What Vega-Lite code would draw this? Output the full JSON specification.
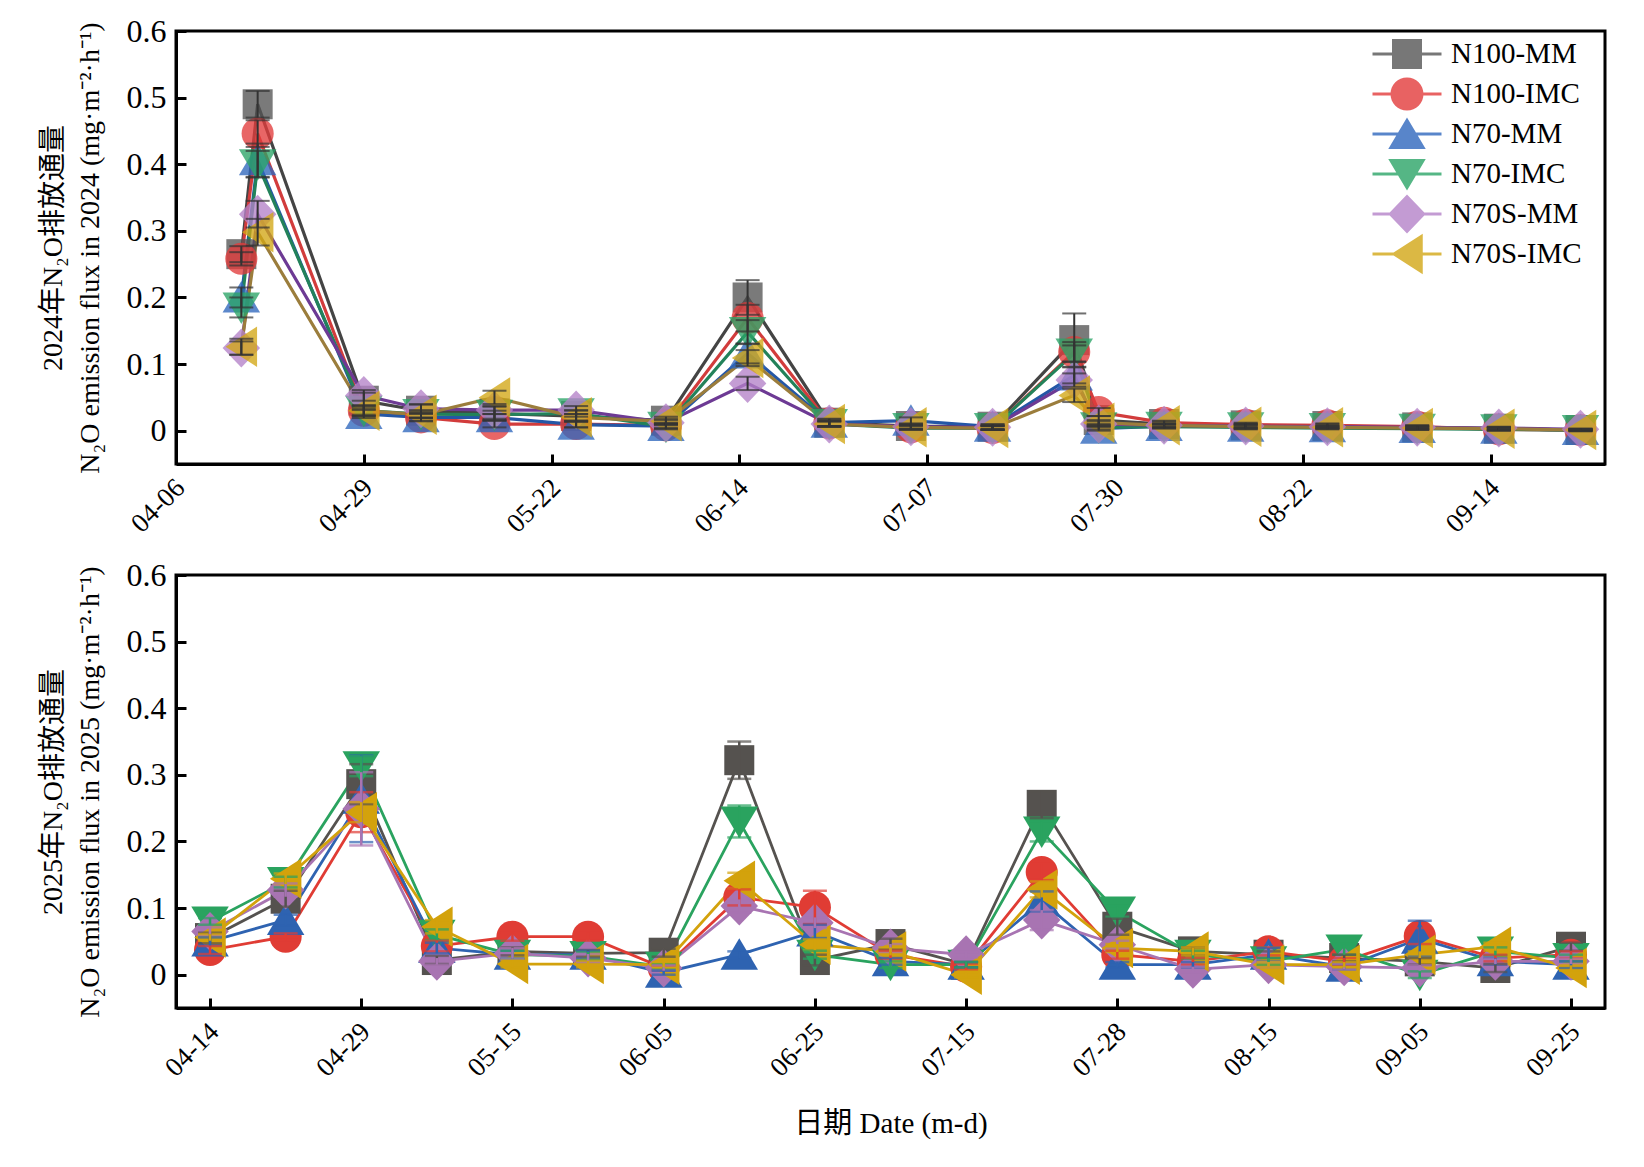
{
  "$schema": "https://vega.github.io/schema/vega-lite/v6.json",
  "background": "white",
  "padding": {"left": 37, "top": 13, "right": 30, "bottom": 10},
  "spacing": 111,
  "bounds": "flush",
  "config": {
    "view": {"stroke": "black", "strokeWidth": 3},
    "axis": {
      "grid": false,
      "domainColor": "black",
      "domainWidth": 3,
      "tickColor": "black",
      "tickWidth": 3,
      "tickSize": -10,
      "labelFont": "Liberation Serif",
      "labelFontSize": 32,
      "labelColor": "black",
      "titleFont": "Liberation Serif, Noto Sans CJK SC",
      "titleFontSize": 28,
      "titleFontWeight": "normal",
      "titleColor": "black",
      "titleLineHeight": 37
    },
    "axisX": {"labelFontSize": 27, "labelPadding": 20, "labelOffset": -5},
    "axisY": {"labelPadding": 20, "titlePadding": 22},
    "legend": {
      "labelFont": "Liberation Serif",
      "labelFontSize": 29,
      "labelColor": "black",
      "labelLimit": 300
    }
  },
  "datasets": {
    "y2024": [
      {"d": "2024-04-14T00:00", "s": "N100-MM", "v": 0.265, "e": 0.012},
      {"d": "2024-04-16T00:00", "s": "N100-MM", "v": 0.49, "e": 0.02},
      {"d": "2024-04-29T00:00", "s": "N100-MM", "v": 0.045, "e": 0.012},
      {"d": "2024-05-06T00:00", "s": "N100-MM", "v": 0.03, "e": 0.01},
      {"d": "2024-05-15T00:00", "s": "N100-MM", "v": 0.026, "e": 0.01},
      {"d": "2024-05-25T00:00", "s": "N100-MM", "v": 0.022, "e": 0.008},
      {"d": "2024-06-05T00:00", "s": "N100-MM", "v": 0.015, "e": 0.006},
      {"d": "2024-06-15T00:00", "s": "N100-MM", "v": 0.2, "e": 0.026},
      {"d": "2024-06-25T00:00", "s": "N100-MM", "v": 0.012, "e": 0.006},
      {"d": "2024-07-05T00:00", "s": "N100-MM", "v": 0.007, "e": 0.004},
      {"d": "2024-07-15T00:00", "s": "N100-MM", "v": 0.006, "e": 0.004},
      {"d": "2024-07-25T00:00", "s": "N100-MM", "v": 0.136, "e": 0.04},
      {"d": "2024-07-28T00:00", "s": "N100-MM", "v": 0.016, "e": 0.006},
      {"d": "2024-08-05T00:00", "s": "N100-MM", "v": 0.01, "e": 0.004},
      {"d": "2024-08-15T00:00", "s": "N100-MM", "v": 0.008, "e": 0.003},
      {"d": "2024-08-25T00:00", "s": "N100-MM", "v": 0.007, "e": 0.003},
      {"d": "2024-09-05T00:00", "s": "N100-MM", "v": 0.005, "e": 0.003},
      {"d": "2024-09-15T00:00", "s": "N100-MM", "v": 0.003, "e": 0.002},
      {"d": "2024-09-25T00:00", "s": "N100-MM", "v": 0.001, "e": 0.002},
      {"d": "2024-04-14T00:00", "s": "N100-IMC", "v": 0.258, "e": 0.01},
      {"d": "2024-04-16T00:00", "s": "N100-IMC", "v": 0.446, "e": 0.02},
      {"d": "2024-04-29T00:00", "s": "N100-IMC", "v": 0.03, "e": 0.008},
      {"d": "2024-05-06T00:00", "s": "N100-IMC", "v": 0.02, "e": 0.006},
      {"d": "2024-05-15T00:00", "s": "N100-IMC", "v": 0.01, "e": 0.005},
      {"d": "2024-05-25T00:00", "s": "N100-IMC", "v": 0.01, "e": 0.005},
      {"d": "2024-06-05T00:00", "s": "N100-IMC", "v": 0.008, "e": 0.004},
      {"d": "2024-06-15T00:00", "s": "N100-IMC", "v": 0.169, "e": 0.02},
      {"d": "2024-06-25T00:00", "s": "N100-IMC", "v": 0.011, "e": 0.004},
      {"d": "2024-07-05T00:00", "s": "N100-IMC", "v": 0.005, "e": 0.003},
      {"d": "2024-07-15T00:00", "s": "N100-IMC", "v": 0.004, "e": 0.003},
      {"d": "2024-07-25T00:00", "s": "N100-IMC", "v": 0.118, "e": 0.015},
      {"d": "2024-07-28T00:00", "s": "N100-IMC", "v": 0.028, "e": 0.006},
      {"d": "2024-08-05T00:00", "s": "N100-IMC", "v": 0.012, "e": 0.003},
      {"d": "2024-08-15T00:00", "s": "N100-IMC", "v": 0.009, "e": 0.003},
      {"d": "2024-08-25T00:00", "s": "N100-IMC", "v": 0.008, "e": 0.003},
      {"d": "2024-09-05T00:00", "s": "N100-IMC", "v": 0.006, "e": 0.002},
      {"d": "2024-09-15T00:00", "s": "N100-IMC", "v": 0.002, "e": 0.002},
      {"d": "2024-09-25T00:00", "s": "N100-IMC", "v": 0.001, "e": 0.001},
      {"d": "2024-04-14T00:00", "s": "N70-MM", "v": 0.2, "e": 0.015},
      {"d": "2024-04-16T00:00", "s": "N70-MM", "v": 0.406, "e": 0.025},
      {"d": "2024-04-29T00:00", "s": "N70-MM", "v": 0.025, "e": 0.006},
      {"d": "2024-05-06T00:00", "s": "N70-MM", "v": 0.02, "e": 0.005},
      {"d": "2024-05-15T00:00", "s": "N70-MM", "v": 0.02, "e": 0.005},
      {"d": "2024-05-25T00:00", "s": "N70-MM", "v": 0.009, "e": 0.004},
      {"d": "2024-06-05T00:00", "s": "N70-MM", "v": 0.007, "e": 0.004},
      {"d": "2024-06-15T00:00", "s": "N70-MM", "v": 0.116, "e": 0.015},
      {"d": "2024-06-25T00:00", "s": "N70-MM", "v": 0.012, "e": 0.005},
      {"d": "2024-07-05T00:00", "s": "N70-MM", "v": 0.015, "e": 0.005},
      {"d": "2024-07-15T00:00", "s": "N70-MM", "v": 0.006, "e": 0.003},
      {"d": "2024-07-25T00:00", "s": "N70-MM", "v": 0.083, "e": 0.012},
      {"d": "2024-07-28T00:00", "s": "N70-MM", "v": 0.003, "e": 0.003},
      {"d": "2024-08-05T00:00", "s": "N70-MM", "v": 0.007, "e": 0.003},
      {"d": "2024-08-15T00:00", "s": "N70-MM", "v": 0.006, "e": 0.003},
      {"d": "2024-08-25T00:00", "s": "N70-MM", "v": 0.005, "e": 0.002},
      {"d": "2024-09-05T00:00", "s": "N70-MM", "v": 0.004, "e": 0.002},
      {"d": "2024-09-15T00:00", "s": "N70-MM", "v": 0.003, "e": 0.002},
      {"d": "2024-09-25T00:00", "s": "N70-MM", "v": 0.001, "e": 0.001},
      {"d": "2024-04-14T00:00", "s": "N70-IMC", "v": 0.185, "e": 0.015},
      {"d": "2024-04-16T00:00", "s": "N70-IMC", "v": 0.4, "e": 0.02},
      {"d": "2024-04-29T00:00", "s": "N70-IMC", "v": 0.03, "e": 0.006},
      {"d": "2024-05-06T00:00", "s": "N70-IMC", "v": 0.025, "e": 0.006},
      {"d": "2024-05-15T00:00", "s": "N70-IMC", "v": 0.024, "e": 0.006},
      {"d": "2024-05-25T00:00", "s": "N70-IMC", "v": 0.026, "e": 0.005},
      {"d": "2024-06-05T00:00", "s": "N70-IMC", "v": 0.006, "e": 0.004},
      {"d": "2024-06-15T00:00", "s": "N70-IMC", "v": 0.148, "e": 0.018},
      {"d": "2024-06-25T00:00", "s": "N70-IMC", "v": 0.01, "e": 0.004},
      {"d": "2024-07-05T00:00", "s": "N70-IMC", "v": 0.004, "e": 0.003},
      {"d": "2024-07-15T00:00", "s": "N70-IMC", "v": 0.004, "e": 0.003},
      {"d": "2024-07-25T00:00", "s": "N70-IMC", "v": 0.116, "e": 0.012},
      {"d": "2024-07-28T00:00", "s": "N70-IMC", "v": 0.005, "e": 0.003},
      {"d": "2024-08-05T00:00", "s": "N70-IMC", "v": 0.006, "e": 0.003},
      {"d": "2024-08-15T00:00", "s": "N70-IMC", "v": 0.005, "e": 0.003},
      {"d": "2024-08-25T00:00", "s": "N70-IMC", "v": 0.004, "e": 0.002},
      {"d": "2024-09-05T00:00", "s": "N70-IMC", "v": 0.003, "e": 0.002},
      {"d": "2024-09-15T00:00", "s": "N70-IMC", "v": 0.002, "e": 0.002},
      {"d": "2024-09-25T00:00", "s": "N70-IMC", "v": 0.001, "e": 0.001},
      {"d": "2024-04-14T00:00", "s": "N70S-MM", "v": 0.124, "e": 0.01},
      {"d": "2024-04-16T00:00", "s": "N70S-MM", "v": 0.325, "e": 0.02},
      {"d": "2024-04-29T00:00", "s": "N70S-MM", "v": 0.053, "e": 0.008},
      {"d": "2024-05-06T00:00", "s": "N70S-MM", "v": 0.033, "e": 0.006},
      {"d": "2024-05-15T00:00", "s": "N70S-MM", "v": 0.031, "e": 0.006},
      {"d": "2024-05-25T00:00", "s": "N70S-MM", "v": 0.031, "e": 0.006},
      {"d": "2024-06-05T00:00", "s": "N70S-MM", "v": 0.012, "e": 0.004},
      {"d": "2024-06-15T00:00", "s": "N70S-MM", "v": 0.071, "e": 0.01},
      {"d": "2024-06-25T00:00", "s": "N70S-MM", "v": 0.01, "e": 0.004},
      {"d": "2024-07-05T00:00", "s": "N70S-MM", "v": 0.006, "e": 0.003},
      {"d": "2024-07-15T00:00", "s": "N70S-MM", "v": 0.005, "e": 0.003},
      {"d": "2024-07-25T00:00", "s": "N70S-MM", "v": 0.076, "e": 0.01},
      {"d": "2024-07-28T00:00", "s": "N70S-MM", "v": 0.01, "e": 0.004},
      {"d": "2024-08-05T00:00", "s": "N70S-MM", "v": 0.008, "e": 0.003},
      {"d": "2024-08-15T00:00", "s": "N70S-MM", "v": 0.007, "e": 0.003},
      {"d": "2024-08-25T00:00", "s": "N70S-MM", "v": 0.006, "e": 0.002},
      {"d": "2024-09-05T00:00", "s": "N70S-MM", "v": 0.005, "e": 0.002},
      {"d": "2024-09-15T00:00", "s": "N70S-MM", "v": 0.004, "e": 0.002},
      {"d": "2024-09-25T00:00", "s": "N70S-MM", "v": 0.002, "e": 0.001},
      {"d": "2024-04-14T00:00", "s": "N70S-IMC", "v": 0.126, "e": 0.012},
      {"d": "2024-04-16T00:00", "s": "N70S-IMC", "v": 0.298, "e": 0.02},
      {"d": "2024-04-29T00:00", "s": "N70S-IMC", "v": 0.03, "e": 0.008},
      {"d": "2024-05-06T00:00", "s": "N70S-IMC", "v": 0.024, "e": 0.005},
      {"d": "2024-05-15T00:00", "s": "N70S-IMC", "v": 0.05, "e": 0.01},
      {"d": "2024-05-25T00:00", "s": "N70S-IMC", "v": 0.02, "e": 0.005},
      {"d": "2024-06-05T00:00", "s": "N70S-IMC", "v": 0.014, "e": 0.004},
      {"d": "2024-06-15T00:00", "s": "N70S-IMC", "v": 0.109, "e": 0.012},
      {"d": "2024-06-25T00:00", "s": "N70S-IMC", "v": 0.01, "e": 0.004},
      {"d": "2024-07-05T00:00", "s": "N70S-IMC", "v": 0.005, "e": 0.003},
      {"d": "2024-07-15T00:00", "s": "N70S-IMC", "v": 0.004, "e": 0.003},
      {"d": "2024-07-25T00:00", "s": "N70S-IMC", "v": 0.053, "e": 0.01},
      {"d": "2024-07-28T00:00", "s": "N70S-IMC", "v": 0.012, "e": 0.004},
      {"d": "2024-08-05T00:00", "s": "N70S-IMC", "v": 0.008, "e": 0.003},
      {"d": "2024-08-15T00:00", "s": "N70S-IMC", "v": 0.006, "e": 0.003},
      {"d": "2024-08-25T00:00", "s": "N70S-IMC", "v": 0.005, "e": 0.002},
      {"d": "2024-09-05T00:00", "s": "N70S-IMC", "v": 0.004, "e": 0.002},
      {"d": "2024-09-15T00:00", "s": "N70S-IMC", "v": 0.003, "e": 0.002},
      {"d": "2024-09-25T00:00", "s": "N70S-IMC", "v": 0.001, "e": 0.001}
    ],
    "y2025": [
      {"d": "04-14", "s": "N100-MM", "v": 0.055, "e": 0.008},
      {"d": "04-21", "s": "N100-MM", "v": 0.114, "e": 0.012},
      {"d": "04-29", "s": "N100-MM", "v": 0.286, "e": 0.03},
      {"d": "05-07", "s": "N100-MM", "v": 0.022, "e": 0.006},
      {"d": "05-15", "s": "N100-MM", "v": 0.035, "e": 0.006},
      {"d": "05-25", "s": "N100-MM", "v": 0.032, "e": 0.005},
      {"d": "06-05", "s": "N100-MM", "v": 0.033, "e": 0.006},
      {"d": "06-15", "s": "N100-MM", "v": 0.322, "e": 0.028},
      {"d": "06-25", "s": "N100-MM", "v": 0.022, "e": 0.008},
      {"d": "07-05", "s": "N100-MM", "v": 0.046, "e": 0.008},
      {"d": "07-15", "s": "N100-MM", "v": 0.015, "e": 0.004},
      {"d": "07-21", "s": "N100-MM", "v": 0.255, "e": 0.02},
      {"d": "07-28", "s": "N100-MM", "v": 0.072, "e": 0.012},
      {"d": "08-05", "s": "N100-MM", "v": 0.035, "e": 0.006},
      {"d": "08-15", "s": "N100-MM", "v": 0.03, "e": 0.005},
      {"d": "08-25", "s": "N100-MM", "v": 0.025, "e": 0.005},
      {"d": "09-05", "s": "N100-MM", "v": 0.02, "e": 0.005},
      {"d": "09-15", "s": "N100-MM", "v": 0.01, "e": 0.006},
      {"d": "09-25", "s": "N100-MM", "v": 0.042, "e": 0.006},
      {"d": "04-14", "s": "N100-IMC", "v": 0.037, "e": 0.006},
      {"d": "04-21", "s": "N100-IMC", "v": 0.057, "e": 0.005},
      {"d": "04-29", "s": "N100-IMC", "v": 0.244, "e": 0.03},
      {"d": "05-07", "s": "N100-IMC", "v": 0.043, "e": 0.008},
      {"d": "05-15", "s": "N100-IMC", "v": 0.057, "e": 0.006},
      {"d": "05-25", "s": "N100-IMC", "v": 0.057, "e": 0.006},
      {"d": "06-05", "s": "N100-IMC", "v": 0.01, "e": 0.004},
      {"d": "06-15", "s": "N100-IMC", "v": 0.116, "e": 0.012},
      {"d": "06-25", "s": "N100-IMC", "v": 0.101, "e": 0.025},
      {"d": "07-05", "s": "N100-IMC", "v": 0.03, "e": 0.006},
      {"d": "07-15", "s": "N100-IMC", "v": 0.012, "e": 0.004},
      {"d": "07-21", "s": "N100-IMC", "v": 0.154, "e": 0.012},
      {"d": "07-28", "s": "N100-IMC", "v": 0.03, "e": 0.006},
      {"d": "08-05", "s": "N100-IMC", "v": 0.02, "e": 0.005},
      {"d": "08-15", "s": "N100-IMC", "v": 0.035, "e": 0.006},
      {"d": "08-25", "s": "N100-IMC", "v": 0.02, "e": 0.005},
      {"d": "09-05", "s": "N100-IMC", "v": 0.058, "e": 0.012},
      {"d": "09-15", "s": "N100-IMC", "v": 0.025, "e": 0.005},
      {"d": "09-25", "s": "N100-IMC", "v": 0.03, "e": 0.005},
      {"d": "04-14", "s": "N70-MM", "v": 0.05, "e": 0.006},
      {"d": "04-21", "s": "N70-MM", "v": 0.082, "e": 0.008},
      {"d": "04-29", "s": "N70-MM", "v": 0.264, "e": 0.065},
      {"d": "05-07", "s": "N70-MM", "v": 0.04, "e": 0.008},
      {"d": "05-15", "s": "N70-MM", "v": 0.03, "e": 0.006},
      {"d": "05-25", "s": "N70-MM", "v": 0.03, "e": 0.006},
      {"d": "06-05", "s": "N70-MM", "v": 0.003, "e": 0.003},
      {"d": "06-15", "s": "N70-MM", "v": 0.03, "e": 0.005},
      {"d": "06-25", "s": "N70-MM", "v": 0.065, "e": 0.01},
      {"d": "07-05", "s": "N70-MM", "v": 0.02, "e": 0.005},
      {"d": "07-15", "s": "N70-MM", "v": 0.015, "e": 0.004},
      {"d": "07-21", "s": "N70-MM", "v": 0.11, "e": 0.015},
      {"d": "07-28", "s": "N70-MM", "v": 0.015, "e": 0.004},
      {"d": "08-05", "s": "N70-MM", "v": 0.015, "e": 0.004},
      {"d": "08-15", "s": "N70-MM", "v": 0.03, "e": 0.01},
      {"d": "08-25", "s": "N70-MM", "v": 0.012, "e": 0.004},
      {"d": "09-05", "s": "N70-MM", "v": 0.054, "e": 0.027},
      {"d": "09-15", "s": "N70-MM", "v": 0.02, "e": 0.005},
      {"d": "09-25", "s": "N70-MM", "v": 0.015, "e": 0.005},
      {"d": "04-14", "s": "N70-IMC", "v": 0.08, "e": 0.005},
      {"d": "04-21", "s": "N70-IMC", "v": 0.139, "e": 0.008},
      {"d": "04-29", "s": "N70-IMC", "v": 0.313, "e": 0.015},
      {"d": "05-07", "s": "N70-IMC", "v": 0.06, "e": 0.008},
      {"d": "05-15", "s": "N70-IMC", "v": 0.03, "e": 0.006},
      {"d": "05-25", "s": "N70-IMC", "v": 0.028, "e": 0.006},
      {"d": "06-05", "s": "N70-IMC", "v": 0.012, "e": 0.004},
      {"d": "06-15", "s": "N70-IMC", "v": 0.23, "e": 0.024},
      {"d": "06-25", "s": "N70-IMC", "v": 0.03, "e": 0.006},
      {"d": "07-05", "s": "N70-IMC", "v": 0.015, "e": 0.005},
      {"d": "07-15", "s": "N70-IMC", "v": 0.015, "e": 0.004},
      {"d": "07-21", "s": "N70-IMC", "v": 0.215, "e": 0.015},
      {"d": "07-28", "s": "N70-IMC", "v": 0.095, "e": 0.008},
      {"d": "08-05", "s": "N70-IMC", "v": 0.03, "e": 0.006},
      {"d": "08-15", "s": "N70-IMC", "v": 0.02, "e": 0.005},
      {"d": "08-25", "s": "N70-IMC", "v": 0.038, "e": 0.008},
      {"d": "09-05", "s": "N70-IMC", "v": 0.0, "e": 0.005},
      {"d": "09-15", "s": "N70-IMC", "v": 0.035, "e": 0.006},
      {"d": "09-25", "s": "N70-IMC", "v": 0.025, "e": 0.005},
      {"d": "04-14", "s": "N70S-MM", "v": 0.065, "e": 0.006},
      {"d": "04-21", "s": "N70S-MM", "v": 0.127, "e": 0.01},
      {"d": "04-29", "s": "N70S-MM", "v": 0.249, "e": 0.055},
      {"d": "05-07", "s": "N70S-MM", "v": 0.02, "e": 0.005},
      {"d": "05-15", "s": "N70S-MM", "v": 0.032, "e": 0.008},
      {"d": "05-25", "s": "N70S-MM", "v": 0.025, "e": 0.006},
      {"d": "06-05", "s": "N70S-MM", "v": 0.01, "e": 0.004},
      {"d": "06-15", "s": "N70S-MM", "v": 0.103, "e": 0.01},
      {"d": "06-25", "s": "N70S-MM", "v": 0.078, "e": 0.008},
      {"d": "07-05", "s": "N70S-MM", "v": 0.04, "e": 0.006},
      {"d": "07-15", "s": "N70S-MM", "v": 0.03, "e": 0.004},
      {"d": "07-21", "s": "N70S-MM", "v": 0.082, "e": 0.015},
      {"d": "07-28", "s": "N70S-MM", "v": 0.045, "e": 0.006},
      {"d": "08-05", "s": "N70S-MM", "v": 0.008, "e": 0.004},
      {"d": "08-15", "s": "N70S-MM", "v": 0.015, "e": 0.004},
      {"d": "08-25", "s": "N70S-MM", "v": 0.012, "e": 0.004},
      {"d": "09-05", "s": "N70S-MM", "v": 0.01, "e": 0.004},
      {"d": "09-15", "s": "N70S-MM", "v": 0.02, "e": 0.004},
      {"d": "09-25", "s": "N70S-MM", "v": 0.02, "e": 0.004},
      {"d": "04-14", "s": "N70S-IMC", "v": 0.056, "e": 0.005},
      {"d": "04-21", "s": "N70S-IMC", "v": 0.144, "e": 0.008},
      {"d": "04-29", "s": "N70S-IMC", "v": 0.244, "e": 0.015},
      {"d": "05-07", "s": "N70S-IMC", "v": 0.072, "e": 0.01},
      {"d": "05-15", "s": "N70S-IMC", "v": 0.016, "e": 0.005},
      {"d": "05-25", "s": "N70S-IMC", "v": 0.016, "e": 0.005},
      {"d": "06-05", "s": "N70S-IMC", "v": 0.015, "e": 0.004},
      {"d": "06-15", "s": "N70S-IMC", "v": 0.141, "e": 0.012},
      {"d": "06-25", "s": "N70S-IMC", "v": 0.045, "e": 0.008},
      {"d": "07-05", "s": "N70S-IMC", "v": 0.035, "e": 0.006},
      {"d": "07-15", "s": "N70S-IMC", "v": 0.0, "e": 0.004},
      {"d": "07-21", "s": "N70S-IMC", "v": 0.128, "e": 0.012},
      {"d": "07-28", "s": "N70S-IMC", "v": 0.04, "e": 0.006},
      {"d": "08-05", "s": "N70S-IMC", "v": 0.035, "e": 0.006},
      {"d": "08-15", "s": "N70S-IMC", "v": 0.015, "e": 0.004},
      {"d": "08-25", "s": "N70S-IMC", "v": 0.015, "e": 0.004},
      {"d": "09-05", "s": "N70S-IMC", "v": 0.03, "e": 0.005},
      {"d": "09-15", "s": "N70S-IMC", "v": 0.042, "e": 0.006},
      {"d": "09-25", "s": "N70S-IMC", "v": 0.01, "e": 0.004}
    ]
  },
  "resolve": {"scale": {"color": "independent", "fill": "independent", "shape": "independent"}},
  "vconcat": [
    {
      "width": 1429,
      "height": 433,
      "data": {"name": "y2024"},
      "resolve": {"scale": {"fill": "independent", "shape": "independent"}},
      "encoding": {
        "x": {
          "field": "d",
          "type": "temporal",
          "scale": {"domain": [{"year": 2024, "month": 4, "date": 6}, {"year": 2024, "month": 9, "date": 28}]},
          "axis": {
            "title": null,
            "format": "%m-%d",
            "labelAngle": -45,
            "values": [
              {"year": 2024, "month": 4, "date": 6},
              {"year": 2024, "month": 4, "date": 29},
              {"year": 2024, "month": 5, "date": 22},
              {"year": 2024, "month": 6, "date": 14},
              {"year": 2024, "month": 7, "date": 7},
              {"year": 2024, "month": 7, "date": 30},
              {"year": 2024, "month": 8, "date": 22},
              {"year": 2024, "month": 9, "date": 14}
            ]
          }
        },
        "y": {
          "field": "v",
          "type": "quantitative",
          "title": ["2024年N₂O排放通量", "N₂O emission flux in 2024 (mg·m⁻²·h⁻¹)"],
          "scale": {"domain": [-0.05, 0.6], "nice": false, "zero": false},
          "axis": {"values": [0, 0.1, 0.2, 0.3, 0.4, 0.5, 0.6], "format": ".1~f"}
        }
      },
      "layer": [
        {
          "mark": {"type": "line", "strokeWidth": 3.2},
          "encoding": {
            "color": {
              "field": "s",
              "type": "nominal",
              "legend": null,
              "scale": {"range": ["#d23c3c", "#444444", "#23825a", "#2457a6", "#9b7d3c", "#6d3a94"]}
            }
          }
        },
        {
          "mark": {"type": "point", "filled": true, "size": 900, "opacity": 0.78, "strokeWidth": 0},
          "encoding": {
            "fill": {
              "field": "s",
              "type": "nominal",
              "legend": null,
              "scale": {"range": ["#e23b3b", "#555555", "#2aa466", "#2e67bd", "#d2a615", "#b482c8"]}
            },
            "shape": {
              "field": "s",
              "type": "nominal",
              "legend": null,
              "scale": {"range": ["M1.07,0A1.07,1.07 0 1,1 -1.07,0A1.07,1.07 0 1,1 1.07,0Z", "M-1,-1H1V1H-1Z", "M-1.25,-1H1.25L0,1.1Z", "M0,-1.1L1.25,1L-1.25,1Z", "M1.05,-1.35V1.35L-1.05,0Z", "M0,-1.3L1.25,0L0,1.3L-1.25,0Z"]}
            }
          }
        },
        {
          "mark": {"type": "point", "filled": true, "size": 900, "opacity": 0, "strokeWidth": 0},
          "encoding": {
            "fill": {
              "field": "s",
              "type": "nominal",
              "scale": {
                "domain": ["N100-MM", "N100-IMC", "N70-MM", "N70-IMC", "N70S-MM", "N70S-IMC"],
                "range": ["#555555", "#e23b3b", "#2e67bd", "#2aa466", "#b482c8", "#d2a615"]
              },
              "legend": {
                "title": null,
                "orient": "none",
                "legendX": 1216,
                "legendY": 8,
                "padding": 0,
                "gridAlign": "all",
                "symbolSize": 900,
                "symbolOpacity": 0.8,
                "symbolStrokeWidth": 0,
                "labelOffset": 29,
                "rowPadding": -2
              }
            },
            "shape": {
              "field": "s",
              "type": "nominal",
              "scale": {
                "domain": ["N100-MM", "N100-IMC", "N70-MM", "N70-IMC", "N70S-MM", "N70S-IMC"],
                "range": [
                  "M-2.3,-0.1H2.3V0.1H-2.3Z M-1,-1H1V1H-1Z",
                  "M-2.3,-0.1H2.3V0.1H-2.3Z M1.1,0A1.1,1.1 0 1,1 -1.1,0A1.1,1.1 0 1,1 1.1,0Z",
                  "M-2.3,-0.1H2.3V0.1H-2.3Z M0,-1.1L1.25,1L-1.25,1Z",
                  "M-2.3,-0.1H2.3V0.1H-2.3Z M-1.25,-1H1.25L0,1.1Z",
                  "M-2.3,-0.1H2.3V0.1H-2.3Z M0,-1.3L1.25,0L0,1.3L-1.25,0Z",
                  "M-2.3,-0.1H2.3V0.1H-2.3Z M1.05,-1.35V1.35L-1.05,0Z"
                ]
              },
              "legend": {
                "title": null,
                "orient": "none",
                "legendX": 1216,
                "legendY": 8,
                "padding": 0,
                "gridAlign": "all",
                "symbolSize": 900,
                "symbolOpacity": 0.8,
                "symbolStrokeWidth": 0,
                "labelOffset": 29,
                "rowPadding": -2
              }
            }
          }
        },
        {
          "mark": {"type": "errorbar", "ticks": true, "size": 24, "thickness": 2, "color": "#333333"},
          "encoding": {"yError": {"field": "e"}}
        }
      ]
    },
    {
      "width": 1429,
      "height": 433,
      "data": {"name": "y2025"},
      "encoding": {
        "x": {
          "field": "d",
          "type": "ordinal",
          "sort": null,
          "scale": {"type": "point", "padding": 0.45},
          "axis": {
            "title": "日期 Date (m-d)",
            "titleFontSize": 29,
            "titlePadding": 29,
            "labelAngle": -45,
            "values": ["04-14", "04-29", "05-15", "06-05", "06-25", "07-15", "07-28", "08-15", "09-05", "09-25"]
          }
        },
        "y": {
          "field": "v",
          "type": "quantitative",
          "title": ["2025年N₂O排放通量", "N₂O emission flux in 2025 (mg·m⁻²·h⁻¹)"],
          "scale": {"domain": [-0.05, 0.6], "nice": false, "zero": false},
          "axis": {"values": [0, 0.1, 0.2, 0.3, 0.4, 0.5, 0.6], "format": ".1~f"}
        },
        "color": {
          "field": "s",
          "type": "nominal",
          "legend": null,
          "scale": {
            "domain": ["N100-MM", "N100-IMC", "N70-MM", "N70-IMC", "N70S-MM", "N70S-IMC"],
            "range": ["#55524f", "#e03c34", "#2e63b1", "#2aa35f", "#a874b2", "#d3a20c"]
          }
        }
      },
      "layer": [
        {"mark": {"type": "line", "strokeWidth": 2.8}},
        {
          "mark": {"type": "point", "filled": true, "size": 900, "opacity": 1, "strokeWidth": 0},
          "encoding": {
            "shape": {
              "field": "s",
              "type": "nominal",
              "legend": null,
              "scale": {
                "domain": ["N100-MM", "N100-IMC", "N70-MM", "N70-IMC", "N70S-MM", "N70S-IMC"],
                "range": ["M-1,-1H1V1H-1Z", "M1.07,0A1.07,1.07 0 1,1 -1.07,0A1.07,1.07 0 1,1 1.07,0Z", "M0,-1.1L1.25,1L-1.25,1Z", "M-1.25,-1H1.25L0,1.1Z", "M0,-1.3L1.25,0L0,1.3L-1.25,0Z", "M1.05,-1.35V1.35L-1.05,0Z"]
              }
            }
          }
        },
        {
          "mark": {"type": "errorbar", "ticks": true, "size": 24, "thickness": 2.5},
          "encoding": {"yError": {"field": "e"}}
        }
      ]
    }
  ]
}
